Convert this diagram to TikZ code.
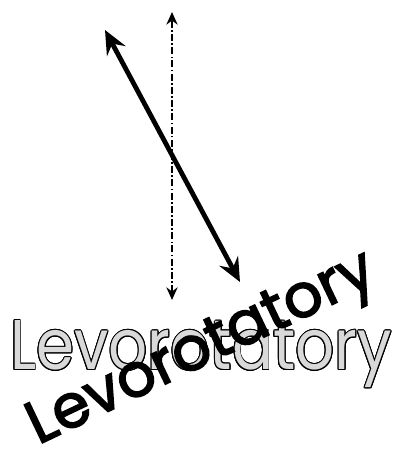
\documentclass[tikz,border=0pt]{standalone}
\usepackage{fontspec}
\newfontfamily\gothic{Poppins}
\newfontfamily\gothicheavy{Poppins}[FakeBold=2.5]
\usepackage{xcolor}
\usepackage[copies]{contour}
\usetikzlibrary{arrows.meta}
\contourlength{0.75pt}

\begin{document}
\begin{tikzpicture}[
    axis/.style={line width=1.3pt, dash pattern=on 5pt off 1.6pt on 1.2pt off 1.6pt, {Stealth[length=9pt,width=8pt]}-{Stealth[length=9pt,width=8pt]}},
    light/.style={line width=3.4pt, {Stealth[length=17pt,width=15pt,inset=6pt]}-{Stealth[length=17pt,width=15pt,inset=6pt]}},
    flatname/.style={font=\gothic\fontsize{50}{50}\selectfont, inner sep=0pt, xscale=0.87},
    turnname/.style={font=\gothicheavy\fontsize{43}{43}\selectfont, inner sep=0pt, anchor=base west}
]
    \useasboundingbox (0,0) rectangle (10.025,11.225);

    \coordinate (axtop) at (4.3,10.925);
    \coordinate (axbot) at (4.3,3.725);
    \coordinate (ltop) at (2.625,10.475);
    \coordinate (lbot) at (6.0,4.175);

    \draw[axis] (axbot) -- (axtop);
    \draw[light] (ltop) -- (lbot);

    \node[flatname] (flat) at (5.025,2.35) {\color{gray!30}\contour{black}{Levorotatory}};
    \node[turnname, rotate=25.5] (turn) at (0.95,0.1) {Levorotatory};
\end{tikzpicture}
\end{document}
